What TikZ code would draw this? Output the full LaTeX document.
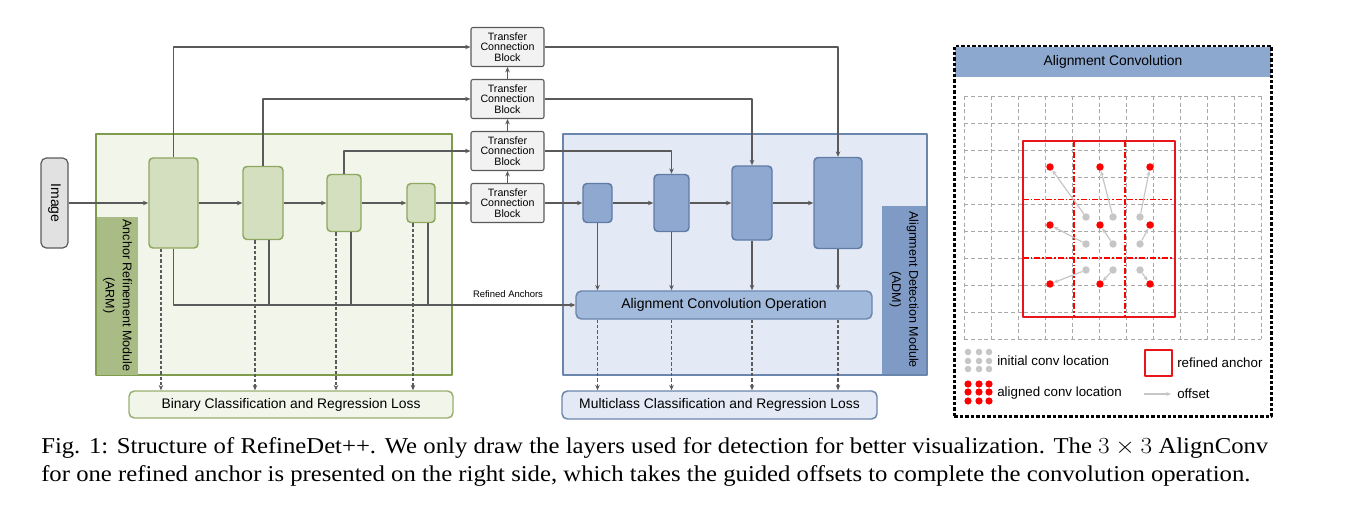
\documentclass[tikz,border=0pt]{standalone}
\usepackage{fontspec}
\setmainfont{Liberation Sans}
\newfontfamily\capserif{Liberation Serif}
\usepackage{tikz}
\usetikzlibrary{arrows.meta,positioning,calc}
\usepackage{xcolor}
\definecolor{linegray}{HTML}{5A5A5A}
\definecolor{armfill}{HTML}{F2F5EA}
\definecolor{armdraw}{HTML}{7F9B4C}
\definecolor{armlab}{HTML}{A9BC85}
\definecolor{gblockfill}{HTML}{D4DFC0}
\definecolor{gblockdraw}{HTML}{8FA860}
\definecolor{admfill}{HTML}{E3EAF6}
\definecolor{admdraw}{HTML}{6B86AC}
\definecolor{admlab}{HTML}{7F9AC4}
\definecolor{bblockfill}{HTML}{8EA8CF}
\definecolor{bblockdraw}{HTML}{5F7BA6}
\definecolor{acofill}{HTML}{A2BADB}
\definecolor{tcbfill}{HTML}{F2F2F2}
\definecolor{headfill}{HTML}{8DA8CF}
\definecolor{gridgray}{HTML}{A8A8A8}
\definecolor{dotgray}{HTML}{C6C6C6}
\definecolor{anchorred}{HTML}{E8161B}

\begin{document}
\begin{tikzpicture}[x=0.75pt, y=-0.75pt, >={Stealth[length=4pt,width=3.4pt]}, line join=round]
    \tikzstyle{module} = [draw, line width=1.5pt, inner sep=0]
    \tikzstyle{module label} = [rotate=-90, inner sep=0, align=center, font=\fontsize{9.4}{13}\selectfont]
    \tikzstyle{green block} = [draw=gblockdraw, fill=gblockfill, line width=1.1pt, rounded corners=3pt, inner sep=0]
    \tikzstyle{blue block} = [draw=bblockdraw, fill=bblockfill, line width=1.1pt, rounded corners=3pt, inner sep=0]
    \tikzstyle{tcb block} = [draw=linegray, fill=tcbfill, line width=0.8pt, rounded corners=1.5pt, inner sep=0, minimum width=54.75pt, minimum height=29.25pt, align=center, font=\fontsize{8}{8.1}\selectfont]
    \tikzstyle{loss box} = [line width=1.1pt, rounded corners=4pt, inner sep=0, font=\fontsize{10.4}{12}\selectfont]
    \tikzstyle{conn} = [->, draw=linegray, line width=1.3pt]
    \tikzstyle{plain conn} = [draw=linegray, line width=1.3pt]
    \tikzstyle{dashed conn} = [->, draw=linegray, line width=1.1pt, dash pattern=on 2.5pt off 1.5pt]
    \tikzstyle{grid line} = [draw=gridgray, line width=0.6pt, dash pattern=on 3pt off 2pt]
    \tikzstyle{align dot} = [circle, fill=red, inner sep=0, minimum size=5.6pt]
    \tikzstyle{init dot} = [circle, fill=dotgray, inner sep=0, minimum size=5.6pt]
    \tikzstyle{offset arrow} = [->, draw=dotgray, line width=0.9pt, >={Stealth[length=3.5pt,width=3pt]}]
    \tikzstyle{legend text} = [anchor=west, inner sep=0, font=\fontsize{10}{12}\selectfont]
    \tikzstyle{caption line} = [anchor=base west, inner sep=0, font=\capserif\fontsize{17}{19}\selectfont]

    \useasboundingbox (0,0) rectangle (1349,504);

    % modules
    \node[module, fill=armfill, draw=armdraw, minimum width=267pt, minimum height=180.75pt] (arm) at (274,254.5) {};
    \node[module label, fill=armlab, minimum width=118.5pt, minimum height=30.75pt] (armlabel) at (117.5,295.5) {Anchor Refinement Module\\(ARM)};
    \node[module, fill=admfill, draw=admdraw, minimum width=273pt, minimum height=180.75pt] (adm) at (745,254.5) {};
    \node[module label, fill=admlab, minimum width=126pt, minimum height=33pt] (admlabel) at (904,289.5) {Alignment Detection Module\\(ADM)};

    \node[draw=linegray, fill=tcbfill!85!gray, line width=0.9pt, rounded corners=4pt, minimum width=67.5pt, minimum height=20.25pt, inner sep=0, rotate=-90, font=\fontsize{10.5}{12}\selectfont] (image) at (54.5,203) {Image};

    \node[green block, minimum width=36.75pt, minimum height=67.5pt] (b1) at (173.5,203) {};
    \node[green block, minimum width=30pt, minimum height=54.75pt] (b2) at (263,203) {};
    \node[green block, minimum width=25.5pt, minimum height=42.75pt] (b3) at (344,203) {};
    \node[green block, minimum width=21pt, minimum height=29.25pt] (b4) at (421,203) {};

    \node[tcb block] (tcb1) at (507.5,203) {Transfer\\Connection\\Block};
    \node[tcb block] (tcb2) at (507.5,151) {Transfer\\Connection\\Block};
    \node[tcb block] (tcb3) at (507.5,99) {Transfer\\Connection\\Block};
    \node[tcb block] (tcb4) at (507.5,47) {Transfer\\Connection\\Block};

    \node[blue block, minimum width=21.75pt, minimum height=29.25pt] (a1) at (597.5,203) {};
    \node[blue block, minimum width=26.25pt, minimum height=42.75pt] (a2) at (671.5,203) {};
    \node[blue block, minimum width=30pt, minimum height=55.5pt] (a3) at (752,203) {};
    \node[blue block, minimum width=36pt, minimum height=68.25pt] (a4) at (838,203) {};

    \node[blue block, fill=acofill, draw=admdraw, rounded corners=4pt, minimum width=222pt, minimum height=21pt, font=\fontsize{10.5}{12}\selectfont] (aco) at (724,305) {Alignment Convolution Operation};
    \node[loss box, draw=armdraw!80, fill=armfill, minimum width=243pt, minimum height=20.25pt] (bcl) at (291,404.5) {Binary Classification and Regression Loss};
    \node[loss box, draw=admdraw, fill=admfill, minimum width=236.25pt, minimum height=21pt] (mcl) at (719.5,405) {Multiclass Classification and Regression Loss};

    % forward path
    \draw[conn] (image) -- (b1);
    \draw[conn] (b1) -- (b2);
    \draw[conn] (b2) -- (b3);
    \draw[conn] (b3) -- (b4);
    \draw[conn] (b4) -- (tcb1);
    \draw[conn] (tcb1) -- (a1);
    \draw[conn] (a1) -- (a2);
    \draw[conn] (a2) -- (a3);
    \draw[conn] (a3) -- (a4);
    \draw[conn] (tcb1) -- (tcb2);
    \draw[conn] (tcb2) -- (tcb3);
    \draw[conn] (tcb3) -- (tcb4);
    \draw[conn] (b1.north) |- (tcb4.west);
    \draw[conn] (b2.north) |- (tcb3.west);
    \draw[conn] (b3.north) |- (tcb2.west);
    \draw[conn] (tcb4.east) -| (a4.north);
    \draw[conn] (tcb3.east) -| (a3.north);
    \draw[conn] (tcb2.east) -| (a2.north);

    % refined anchors
    \coordinate (b2o) at ([xshift=4.5pt]b2.south);
    \coordinate (b3o) at ([xshift=5.25pt]b3.south);
    \coordinate (b4o) at ([xshift=5.25pt]b4.south);
    \draw[conn] (b1.south) |- (aco.west);
    \draw[plain conn] (b2o) -- (b2o |- aco.west);
    \draw[plain conn] (b3o) -- (b3o |- aco.west);
    \draw[plain conn] (b4o) -- (b4o |- aco.west);
    \node[inner sep=0, font=\fontsize{7.1}{8}\selectfont] (refined) at (508,294) {Refined Anchors};

    % losses
    \coordinate (b1d) at ([xshift=-9.4pt]b1.south);
    \coordinate (b2d) at ([xshift=-6pt]b2.south);
    \coordinate (b3d) at ([xshift=-6pt]b3.south);
    \coordinate (b4d) at ([xshift=-6pt]b4.south);
    \foreach \b in {b1d,b2d,b3d,b4d}
        \draw[dashed conn] (\b) -- (\b |- bcl.north);
    \foreach \a in {a1,a2,a3,a4} {
        \draw[conn] (\a) -- (\a |- aco.north);
        \draw[dashed conn] (\a |- aco.south) -- (\a |- mcl.north);
    }

    % alignment convolution panel
    \node[fill=headfill, inner sep=0, minimum width=237pt, minimum height=22.5pt, font=\fontsize{10.4}{12}\selectfont] (header) at (1113,61.5) {Alignment Convolution};
    \foreach \i in {0,...,11}
        \draw[grid line] (964.3+27*\i,96) -- (964.3+27*\i,339);
    \foreach \j in {0,...,9}
        \draw[grid line] (964.3,96+27*\j) -- (1261.3,96+27*\j);
    \draw[red, line width=1.2pt, dash pattern=on 4.5pt off 1.5pt on 1.2pt off 1.5pt] (1073.7,140.7) -- (1073.7,316.7) (1124.7,140.7) -- (1124.7,316.7) (1022.7,199.3) -- (1175.3,199.3) (1022.7,257.7) -- (1175.3,257.7);
    \node[draw=anchorred, line width=1.5pt, inner sep=0, minimum width=114.5pt, minimum height=132pt] (anchor) at (1099,228.7) {};
    \foreach \c/\rx/\gx in {1/1050/1086, 2/1100/1113, 3/1150/1140}
        \foreach \r/\ry/\gy in {1/167/217, 2/225/244, 3/284/270} {
            \node[init dot] (g\r\c) at (\gx,\gy) {};
            \node[align dot] (r\r\c) at (\rx,\ry) {};
            \draw[offset arrow] (g\r\c) -- (r\r\c);
        }
    \foreach \x in {968,979,989} {
        \foreach \y in {352,361,369}
            \node[init dot, minimum size=4.9pt] at (\x,\y) {};
        \foreach \y in {384,392,401}
            \node[align dot, minimum size=5.4pt] at (\x,\y) {};
    }
    \node[legend text] (initial) at (997,361) {initial conv location};
    \node[legend text] (aligned) at (997,393) {aligned conv location};
    \node[draw=anchorred, line width=1pt, inner sep=0, minimum width=20.25pt, minimum height=19.5pt] (legbox) at (1158.5,363) {};
    \node[legend text] (legboxtext) at (1177,363) {refined anchor};
    \node[legend text] (offset) at (1177,394) {offset};
    \coordinate (offstart) at (1144,394);
    \draw[offset arrow, shorten >=4.5pt] (offstart) -- (offset.west);
    \node[draw, line width=2.2pt, dash pattern=on 2.6pt off 1.5pt, inner sep=0, minimum width=238pt, minimum height=278pt] (panel) at (1113,231.35) {};

    % caption
    \node[caption line] (cap1) at (41,453.3) {\scalebox{1.09}[1]{\hbox to 844.3pt{Fig. 1: Structure of RefineDet++. We only draw the layers used for detection for better visualization. The $3\times 3$ AlignConv}}};
    \node[caption line] (cap2) at (41,481.7) {\scalebox{1.09}[1]{for one refined anchor is presented on the right side, which takes the guided offsets to complete the convolution operation.}};
\end{tikzpicture}
\end{document}
